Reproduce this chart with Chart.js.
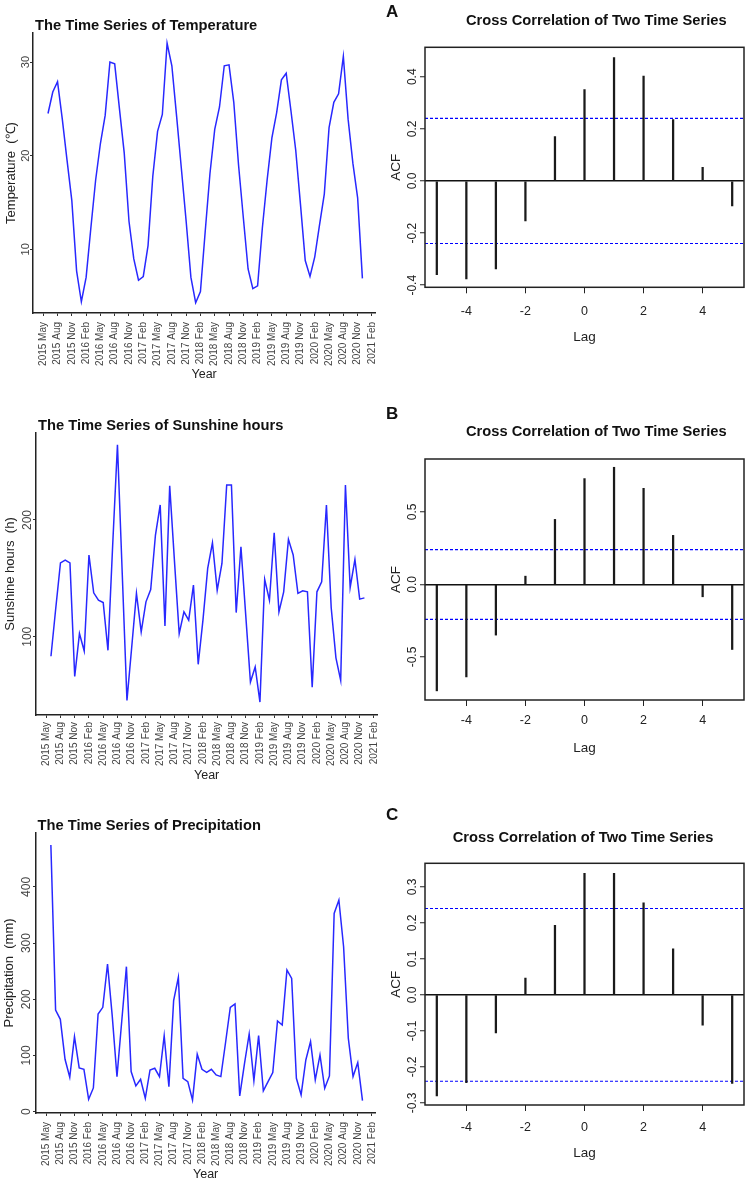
<!DOCTYPE html>
<html>
<head>
<meta charset="utf-8">
<script src="https://cdn.jsdelivr.net/npm/chart.js@4.4.1/dist/chart.umd.min.js"></script>
<style>
  body { margin: 0; background: #fff; }
  #fig { position: relative; width: 748px; height: 1183px; overflow: hidden; font-family: 'Liberation Sans', Arial, sans-serif; }
  canvas { position: absolute; }
  .titulo { position: absolute; font-weight: bold; font-size: 14.7px; line-height: 14.7px; white-space: nowrap; color: #111; z-index: 2; }
  .letra { position: absolute; font-weight: bold; font-size: 17px; line-height: 17px; color: #111; z-index: 2; }
</style>
</head>
<body>
<div id="fig">
  <canvas id="ts-temp" width="390" height="385" style="left:0;top:0"></canvas>
  <canvas id="ts-sun" width="390" height="405" style="left:0;top:385px"></canvas>
  <canvas id="ts-precip" width="390" height="393" style="left:0;top:790px"></canvas>
  <canvas id="acf-temp" width="363" height="385" style="left:385px;top:0"></canvas>
  <canvas id="acf-sun" width="363" height="405" style="left:385px;top:385px"></canvas>
  <canvas id="acf-precip" width="363" height="393" style="left:385px;top:790px"></canvas>

  <div class="titulo" style="left:35px;top:17.6px">The Time Series of Temperature</div>
  <div class="titulo" style="left:38px;top:417.6px">The Time Series of Sunshine hours</div>
  <div class="titulo" style="left:37.5px;top:817.6px">The Time Series of Precipitation</div>
  <div class="titulo" style="left:466px;top:12.6px">Cross Correlation of Two Time Series</div>
  <div class="titulo" style="left:466px;top:423.6px">Cross Correlation of Two Time Series</div>
  <div class="titulo" style="left:452.7px;top:830px">Cross Correlation of Two Time Series</div>
  <div class="letra" style="left:386px;top:2.9px">A</div>
  <div class="letra" style="left:386px;top:404.9px">B</div>
  <div class="letra" style="left:386px;top:806.3px">C</div>
</div>

<script>
const FUENTE = "'Liberation Sans', Arial, sans-serif";
Chart.defaults.font.family = FUENTE;

// x axis of the series: months counted from 2015 May, a tick every 3 months
const monthTickLabels = ['2015 May', '2015 Aug', '2015 Nov', '2016 Feb', '2016 May', '2016 Aug', '2016 Nov',
    '2017 Feb', '2017 May', '2017 Aug', '2017 Nov', '2018 Feb', '2018 May', '2018 Aug', '2018 Nov',
    '2019 Feb', '2019 May', '2019 Aug', '2019 Nov', '2020 Feb', '2020 May', '2020 Aug', '2020 Nov', '2021 Feb'];
const seriesStartMonth = 1; // first value is 2015 Jun

// monthly values 2015 Jun .. 2020 Dec
const temperature = [24.5, 26.8, 27.9, 23.9, 19.5, 15.2, 7.7, 4.4, 7.0, 12.3, 17.4, 21.3,
    24.3, 30.0, 29.8, 25.0, 20.3, 13.0, 9.0, 6.7, 7.1, 10.4, 17.8, 22.6,
    24.4, 32.0, 29.6, 24.2, 18.6, 13.0, 7.0, 4.3, 5.5, 11.9, 18.1, 22.8,
    25.2, 29.6, 29.7, 25.7, 19.0, 13.4, 7.9, 5.8, 6.1, 12.3, 17.4, 21.9,
    24.6, 28.1, 28.8, 24.8, 20.6, 14.8, 8.8, 7.1, 9.2, 12.6, 15.9, 23.0,
    25.7, 26.6, 30.6, 23.9, 19.2, 15.5, 6.9];
const sunshine = [83.3, 124, 163.3, 165.7, 163.3, 66, 102.7, 87.8, 170, 137.6, 131.3, 129.3,
    88.4, 179, 264.4, 155, 45.5, 91, 137.1, 104.2, 129.9, 140.5, 187.1, 212.9,
    109.3, 229.2, 165, 102.7, 121.3, 114.2, 144.2, 76.4, 114.2, 158.5, 180.5, 139.9,
    162.8, 230, 230, 120.7, 177.1, 119, 61.2, 74.1, 44.1, 149.1, 131.3, 189.1,
    121.3, 138.5, 183.4, 170, 137.1, 139.3, 138.5, 56.9, 138.5, 147.1, 212.9, 125,
    82, 62.7, 230, 142.2, 166.2, 132.2, 133.3];
const precipitation = [474.5, 180.9, 164.3, 93.1, 61.1, 133.5, 77.7, 75.3, 21.9, 42.1, 173.8, 185.6,
    262.8, 170, 62, 160, 258, 71.2, 45.7, 57.5, 23.7, 74.1, 77.1, 62.3,
    135.2, 44.5, 197.5, 239, 59.3, 53.4, 20.8, 102, 75.3, 70, 75.3, 65.2,
    62.3, 123, 185.6, 191.6, 27.9, 85, 138.2, 55.2, 135.2, 36.8, 53.4, 69.4,
    161.3, 154.2, 252.1, 237.2, 59.3, 29.7, 91.9, 124.6, 56.3, 100.8, 41.5, 63.5,
    352.9, 376.6, 293.6, 130.5, 62.3, 87.2, 19.6];

const tempTicks = [10, 20, 30];
const sunshineTicks = [100, 200];
const precipTicks = [0, 100, 200, 300, 400];

// cross correlations
const lags = [-5, -4, -3, -2, -1, 0, 1, 2, 3, 4, 5];
const acfTemp = [-0.360, -0.376, -0.337, -0.153, 0.170, 0.351, 0.474, 0.403, 0.236, 0.052, -0.096];
const acfSun = [-0.733, -0.637, -0.349, 0.057, 0.448, 0.729, 0.807, 0.662, 0.338, -0.085, -0.448];
const acfPrecip = [-0.281, -0.244, -0.106, 0.047, 0.193, 0.338, 0.338, 0.256, 0.128, -0.084, -0.246];
const ciLevel = 0.24;
const lagTicks = [-4, -2, 0, 2, 4];
const acfTempTicks = [-0.4, -0.2, 0, 0.2, 0.4];
const acfSunTicks = [-0.5, 0, 0.5];
const acfPrecipTicks = [-0.3, -0.2, -0.1, 0, 0.1, 0.2, 0.3];

const lagMin = -5.4, lagMax = 5.4;

// box around the plot region (R bty = "o")
const marco = {
    id: 'marco',
    afterDraw(chart) {
        const {ctx, chartArea: a} = chart;
        ctx.save();
        ctx.strokeStyle = '#222';
        ctx.lineWidth = 1.5;
        ctx.strokeRect(a.left, a.top, a.right - a.left, a.bottom - a.top);
        ctx.restore();
    }
};

function crearSerie(id, valores, yTicks, yTitulo, cfg) {
    const ctx = document.getElementById(id).getContext('2d');
    return new Chart(ctx, {
        type: 'line',
        data: {
            datasets: [{
                data: valores.map((v, i) => ({x: i + seriesStartMonth, y: v})),
                borderColor: '#2828ff',
                borderWidth: 1.5,
                pointRadius: 0,
                tension: 0,
                fill: false
            }]
        },
        options: {
            responsive: false,
            animation: false,
            devicePixelRatio: 1,
            layout: { padding: { left: 0, top: cfg.top, right: 7.5, bottom: 0 } },
            plugins: { legend: { display: false }, tooltip: { enabled: false } },
            scales: {
                x: {
                    type: 'linear',
                    min: -2.15,
                    max: 69.7,
                    afterBuildTicks: axis => { axis.ticks = monthTickLabels.map((_, k) => ({value: k * 3})); },
                    afterFit: axis => { axis.height = cfg.xHeight; },
                    ticks: {
                        autoSkip: false, minRotation: 90, maxRotation: 90, padding: cfg.xTickPad,
                        color: '#444', font: { size: 10 },
                        callback: (v, i) => monthTickLabels[i]
                    },
                    grid: { display: true, drawOnChartArea: false, drawTicks: true, tickLength: 3, tickColor: '#333' },
                    border: { display: true, color: '#222', width: 1.5 },
                    title: { display: true, text: 'Year', color: '#222', font: { size: 12.5 }, padding: { top: 0, bottom: cfg.yearPad } }
                },
                y: {
                    type: 'linear',
                    min: cfg.yMin,
                    max: cfg.yMax,
                    afterBuildTicks: axis => { axis.ticks = yTicks.map(v => ({value: v})); },
                    afterFit: axis => { axis.width = cfg.yWidth; },
                    ticks: {
                        minRotation: 90, maxRotation: 90, crossAlign: 'center', padding: cfg.yTickPad,
                        color: '#444', font: { size: cfg.yTickSize }
                    },
                    grid: { display: true, drawOnChartArea: false, drawTicks: true, tickLength: 3, tickColor: '#333' },
                    border: { display: true, color: '#222', width: 1.5 },
                    title: { display: true, text: yTitulo, color: '#222', font: { size: 13 }, padding: { top: cfg.yTitlePad, bottom: 0 } }
                }
            }
        }
    });
}

function crearACF(id, valores, yTicks, cfg) {
    const ctx = document.getElementById(id).getContext('2d');
    const lineaCI = nivel => ({
        type: 'line',
        data: [{x: lagMin, y: nivel}, {x: lagMax, y: nivel}],
        borderColor: '#0000ff',
        borderWidth: 1.2,
        borderDash: [3, 2],
        pointRadius: 0
    });
    return new Chart(ctx, {
        type: 'bar',
        data: {
            datasets: [
                {
                    type: 'bar',
                    data: lags.map((l, i) => ({x: l, y: valores[i]})),
                    backgroundColor: '#1a1a1a',
                    borderWidth: 0,
                    barThickness: 1.6
                },
                lineaCI(ciLevel),
                lineaCI(-ciLevel)
            ]
        },
        options: {
            responsive: false,
            animation: false,
            devicePixelRatio: 1,
            layout: { padding: { left: 0, top: cfg.top, right: 4, bottom: 0 } },
            plugins: { legend: { display: false }, tooltip: { enabled: false } },
            scales: {
                x: {
                    type: 'linear',
                    min: lagMin,
                    max: lagMax,
                    offset: false,
                    afterBuildTicks: axis => { axis.ticks = lagTicks.map(v => ({value: v})); },
                    afterFit: axis => { axis.height = cfg.xHeight; },
                    ticks: { padding: cfg.xTickPad, color: '#222', font: { size: 12.5 }, maxRotation: 0 },
                    grid: { offset: false, display: true, drawOnChartArea: false, tickLength: 6, tickColor: '#222' },
                    border: { display: false },
                    title: { display: true, text: 'Lag', color: '#222', font: { size: 13.5 }, padding: { top: 0, bottom: cfg.lagPad } }
                },
                y: {
                    type: 'linear',
                    min: cfg.yMin,
                    max: cfg.yMax,
                    afterBuildTicks: axis => { axis.ticks = yTicks.map(v => ({value: v})); },
                    afterFit: axis => { axis.width = 40; },
                    ticks: {
                        minRotation: 90, maxRotation: 90, crossAlign: 'center', padding: -3.3,
                        color: '#222', font: { size: 12 },
                        callback: v => v.toFixed(1)
                    },
                    grid: {
                        display: true,
                        drawOnChartArea: true,
                        color: c => (c.tick && c.tick.value === 0) ? '#111' : 'rgba(0,0,0,0)',
                        lineWidth: 1.5,
                        tickLength: 5,
                        tickColor: '#222',
                        tickWidth: 1
                    },
                    border: { display: false },
                    title: { display: true, text: 'ACF', color: '#222', font: { size: 13.5 }, padding: { top: 3.1, bottom: 0 } }
                }
            }
        },
        plugins: [marco]
    });
}

crearSerie('ts-temp', temperature, tempTicks, 'Temperature  (\u2103)',
    { top: 33, xHeight: 72, yWidth: 33, yMin: 3.2, yMax: 33.1, yTickSize: 11, yTickPad: -2, yTitlePad: 4, xTickPad: 6, yearPad: 3 });
crearSerie('ts-sun', sunshine, sunshineTicks, 'Sunshine hours  (h)',
    { top: 48, xHeight: 75, yWidth: 36, yMin: 33, yMax: 274.5, yTickSize: 12, yTickPad: -4.5, yTitlePad: 2.2, xTickPad: 4, yearPad: 6.5 });
crearSerie('ts-precip', precipitation, precipTicks, 'Precipitation  (mm)',
    { top: 43, xHeight: 70, yWidth: 36, yMin: -2.5, yMax: 496, yTickSize: 12, yTickPad: -3.7, yTitlePad: 1.2, xTickPad: 6, yearPad: 0.5 });

crearACF('acf-temp', acfTemp, acfTempTicks, { top: 47.3, xHeight: 97.7, yMin: -0.408, yMax: 0.513, xTickPad: 10.5, lagPad: 39.9 });
crearACF('acf-sun', acfSun, acfSunTicks, { top: 74, xHeight: 90, yMin: -0.796, yMax: 0.864, xTickPad: 6.8, lagPad: 33.6 });
crearACF('acf-precip', acfPrecip, acfPrecipTicks, { top: 73.3, xHeight: 78, yMin: -0.306, yMax: 0.3656, xTickPad: 9.5, lagPad: 21.6 });
</script>
</body>
</html>
